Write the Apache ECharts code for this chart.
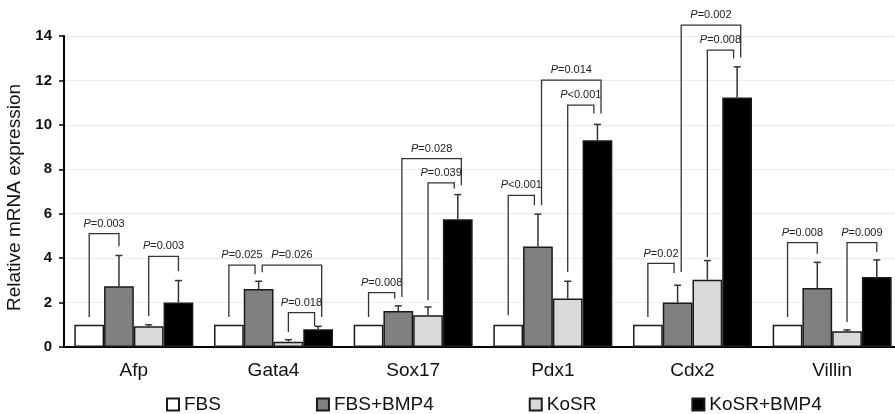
<!DOCTYPE html>
<html>
<head>
<meta charset="utf-8">
<script src="https://cdn.jsdelivr.net/npm/echarts@6/dist/echarts.min.js"></script>
<style>
  html, body { margin: 0; padding: 0; background: #fff; }
  #container { width: 895px; height: 414px; }
</style>
</head>
<body>
<div id="container"></div>
<script>
// categories and series (mean, sd)
var categories = ['Afp', 'Gata4', 'Sox17', 'Pdx1', 'Cdx2', 'Villin'];
var seriesNames = ['FBS', 'FBS+BMP4', 'KoSR', 'KoSR+BMP4'];
var fbs = [1, 1, 1, 1, 1, 1];
var fbsErr = [0, 0, 0, 0, 0, 0];
var fbsBmp4 = [2.73, 2.61, 1.62, 4.52, 2.0, 2.66];
var fbsBmp4Err = [1.39, 0.35, 0.23, 1.46, 0.78, 1.15];
var kosr = [0.93, 0.24, 1.43, 2.18, 3.03, 0.71];
var kosrErr = [0.07, 0.09, 0.37, 0.78, 0.86, 0.06];
var kosrBmp4 = [2.0, 0.8, 5.75, 9.31, 11.23, 3.15];
var kosrBmp4Err = [0.99, 0.13, 1.11, 0.71, 1.38, 0.77];
var yTicks = [0, 2, 4, 6, 8, 10, 12, 14];

// significance brackets: [category, from bar, to bar, top, left leg end, right leg end, p text]
var brackets = [
  [0, 0, 1, 5.1, 1.35, 4.53, '=0.003'],
  [0, 2, 3, 4.08, 1.4, 3.42, '=0.003'],
  [1, 0, 1, 3.69, 1.35, 3.27, '=0.025'],
  [1, 1, 3, 3.69, 3.36, 1.35, '=0.026'],
  [1, 2, 3, 1.55, 0.68, 0.95, '=0.018'],
  [2, 0, 1, 2.45, 1.35, 2.18, '=0.008'],
  [2, 1, 3, 8.48, 2.25, 7.28, '=0.028'],
  [2, 2, 3, 7.39, 2.1, 7.13, '=0.039'],
  [3, 0, 1, 6.83, 1.43, 6.38, '<0.001'],
  [3, 1, 3, 12.01, 6.38, 10.51, '=0.014'],
  [3, 2, 3, 10.89, 3.38, 10.51, '<0.001'],
  [4, 0, 1, 3.76, 1.35, 3.33, '=0.02'],
  [4, 1, 3, 14.49, 3.38, 13.03, '=0.002'],
  [4, 2, 3, 13.36, 4.05, 12.99, '=0.008'],
  [5, 0, 1, 4.7, 1.35, 4.2, '=0.008'],
  [5, 2, 3, 4.7, 1.13, 4.28, '=0.009']
];

var means = [fbs, fbsBmp4, kosr, kosrBmp4];
var errs = [fbsErr, fbsBmp4Err, kosrErr, kosrBmp4Err];
var colors = ['#ffffff', '#808080', '#d9d9d9', '#000000'];
var BAR_FRAC = 0.213;
var FONT = '"Liberation Sans", Arial, sans-serif';

// when two legs land on the same bar, shift them apart (taller bracket outside)
var legOffsets = brackets.map(function () { return [0, 0]; });
(function () {
  var groups = {};
  brackets.forEach(function (b, i) {
    [[b[1], 0], [b[2], 1]].forEach(function (leg) {
      var key = b[0] + '_' + leg[0];
      (groups[key] = groups[key] || []).push({ i: i, side: leg[1], top: b[3] });
    });
  });
  Object.keys(groups).forEach(function (k) {
    var g = groups[k];
    if (g.length < 2) return;
    g.sort(function (a, b) { return a.top - b.top || b.side - a.side; });
    g.forEach(function (leg, j) {
      legOffsets[leg.i][leg.side] = (j - (g.length - 1) / 2) * 0.24;
    });
  });
})();

var errData = [];
means.forEach(function (arr, s) {
  arr.forEach(function (v, c) {
    if (errs[s][c] > 0) errData.push([c, v + errs[s][c], s, v]);
  });
});

function barX(api, cat, s) {
  var band = api.size([1, 0])[0];
  var bw = band * BAR_FRAC;
  return { x: api.coord([cat, 0])[0] + (s - 1.5) * bw, bw: bw };
}

var barSeries = seriesNames.map(function (name, s) {
  return {
    name: name,
    type: 'bar',
    data: means[s],
    barWidth: (BAR_FRAC * 100) + '%',
    barGap: '0%',
    itemStyle: { color: colors[s], borderColor: '#1a1a1a', borderWidth: 1.5 },
    emphasis: { disabled: true },
    z: 2
  };
});

var option = {
  animation: false,
  textStyle: { fontFamily: FONT },
  grid: { left: 64, top: 36, bottom: 67, width: 838, outerBoundsMode: 'none', containLabel: false },
  legend: {
    data: seriesNames,
    left: 166,
    top: 395,
    padding: 0,
    icon: 'rect',
    itemWidth: 12,
    itemHeight: 12,
    itemGap: 95,
    textStyle: { fontSize: 19, color: '#111', fontFamily: FONT }
  },
  xAxis: {
    type: 'category',
    data: categories,
    axisLine: { lineStyle: { color: '#000', width: 2 } },
    axisTick: { length: 5, lineStyle: { color: '#000', width: 1.5 } },
    axisLabel: { fontSize: 19, color: '#111', margin: 14, fontFamily: FONT }
  },
  yAxis: {
    type: 'value',
    min: yTicks[0],
    max: yTicks[yTicks.length - 1],
    interval: 2,
    name: 'Relative mRNA expression',
    nameLocation: 'middle',
    nameGap: 31,
    nameTextStyle: { fontSize: 19, color: '#111', fontFamily: FONT, padding: [0, 12, 0, 0] },
    axisLine: { show: true, lineStyle: { color: '#000', width: 2 } },
    axisTick: { show: true, length: 5, lineStyle: { color: '#000', width: 1.5 } },
    axisLabel: { fontSize: 15, fontWeight: 'bold', color: '#111', margin: 12, fontFamily: FONT },
    splitLine: { lineStyle: { color: '#ededed', width: 1 } }
  },
  series: barSeries.concat([
    {
      type: 'custom',
      name: 'err',
      data: errData,
      encode: { x: 0, y: 1 },
      z: 3,
      silent: true,
      renderItem: function (params, api) {
        var d = errData[params.dataIndex];
        var p = barX(api, d[0], d[2]);
        var yTop = api.coord([d[0], d[1]])[1];
        var yBar = api.coord([d[0], d[3]])[1];
        var st = { stroke: '#333', lineWidth: 1.5 };
        return {
          type: 'group',
          children: [
            { type: 'line', shape: { x1: p.x, y1: yBar, x2: p.x, y2: yTop }, style: st },
            { type: 'line', shape: { x1: p.x - 3.5, y1: yTop, x2: p.x + 3.5, y2: yTop }, style: st }
          ]
        };
      }
    },
    {
      type: 'custom',
      name: 'brackets',
      data: brackets.map(function (b) { return [b[0], b[3]]; }),
      encode: { x: 0, y: 1 },
      z: 4,
      silent: true,
      clip: false,
      renderItem: function (params, api) {
        var b = brackets[params.dataIndex];
        var off = legOffsets[params.dataIndex];
        var a = barX(api, b[0], b[1]);
        var c = barX(api, b[0], b[2]);
        var x1 = a.x + off[0] * a.bw;
        var x2 = c.x + off[1] * c.bw;
        var yTop = api.coord([b[0], b[3]])[1];
        var y1 = api.coord([b[0], b[4]])[1];
        var y2 = api.coord([b[0], b[5]])[1];
        return {
          type: 'group',
          children: [
            {
              type: 'polyline',
              shape: { points: [[x1, y1], [x1, yTop], [x2, yTop], [x2, y2]] },
              style: { stroke: '#333', lineWidth: 1.3, fill: null }
            },
            {
              type: 'text',
              x: (x1 + x2) / 2,
              y: yTop - 10,
              style: {
                text: '{i|P}' + b[6],
                align: 'center',
                verticalAlign: 'middle',
                fontSize: 11,
                fontFamily: FONT,
                fill: '#222',
                rich: { i: { fontStyle: 'italic', fontSize: 11, fontFamily: FONT, fill: '#222' } }
              }
            }
          ]
        };
      }
    }
  ])
};

var myChart = echarts.init(document.getElementById('container'));
myChart.setOption(option);
</script>
</body>
</html>
